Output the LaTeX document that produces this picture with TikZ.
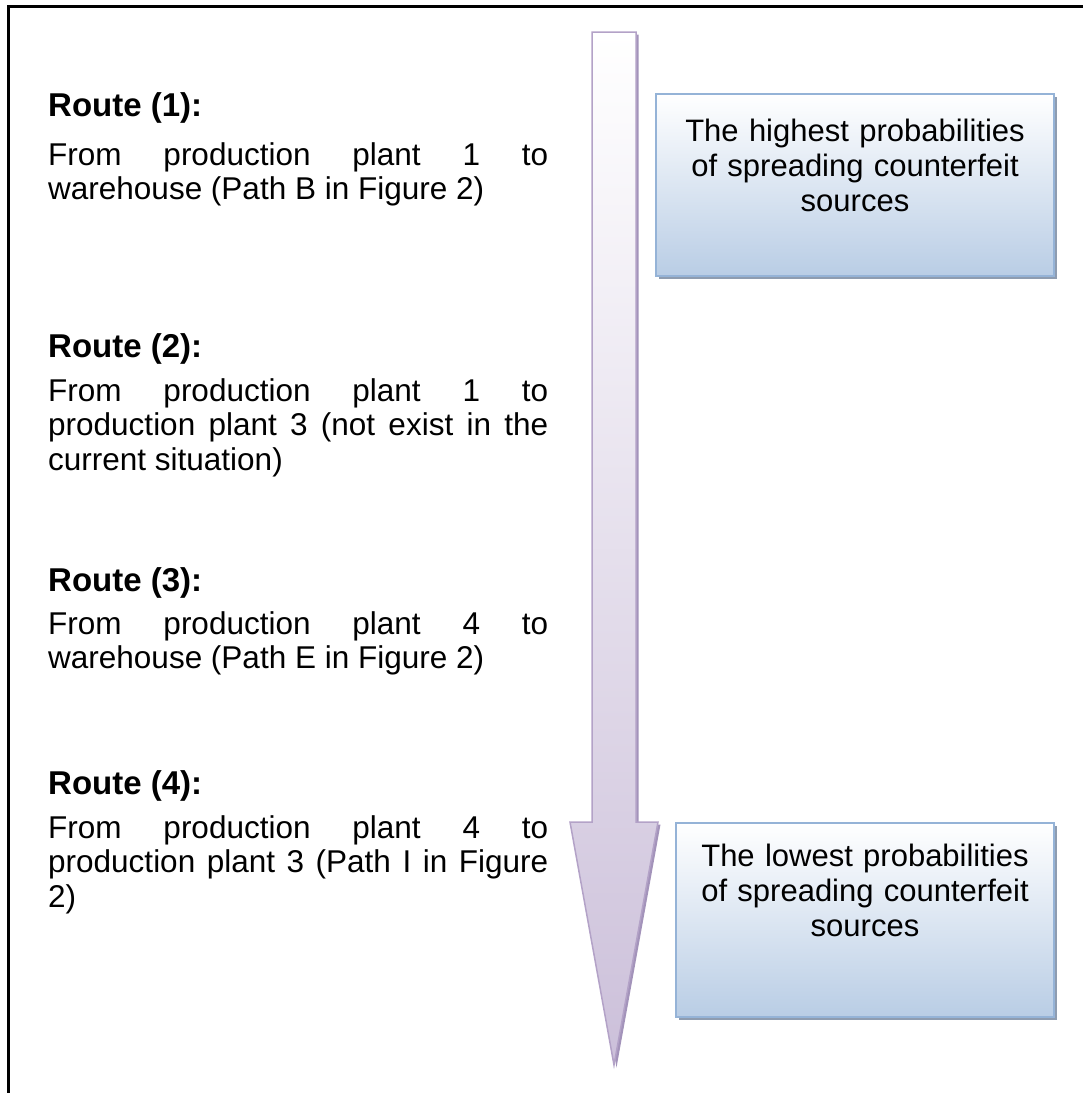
\documentclass[tikz,border=0pt]{standalone}
\usepackage{fontspec}
\setmainfont{Liberation Sans}
\usetikzlibrary{shadows, positioning}
\definecolor{boxblue}{HTML}{B9CDE5}
\definecolor{boxline}{HTML}{95B3D7}
\definecolor{boxshade}{HTML}{8E9CB0}
\definecolor{arrowfill}{HTML}{CCC0DA}
\definecolor{arrowline}{HTML}{B3A2C7}
\definecolor{arrowshade}{HTML}{A393BA}
\tolerance=10000
\hyphenpenalty=10000
\hbadness=10000

\begin{document}
\begin{tikzpicture}[
    x=1pt, y=-1pt,
    heading/.style={anchor=base west, inner sep=0pt, font=\fontsize{33}{35}\selectfont\bfseries},
    route/.style={anchor=base west, inner sep=0pt, text width=500pt, align=justify, font=\fontsize{31.5}{34.5}\selectfont},
    probbox/.style={draw=boxline, line width=1.5pt, top color=white, bottom color=boxblue, inner sep=0pt, anchor=north, drop shadow={shadow xshift=3pt, shadow yshift=-3pt, fill=boxshade, opacity=1}},
    probtext/.style={anchor=base, inner sep=0pt, text width=380pt, align=center, font=\fontsize{31}{35}\selectfont}
]
\useasboundingbox (0,0) rectangle (1083,1093);

% Frame
\draw[line width=2.5pt] (8.5,1093) -- (8.5,6.5) -- (1083,6.5);

% Big Arrow
\path[draw=arrowline, line width=1.5pt, top color=white, bottom color=arrowfill,
      drop shadow={shadow xshift=2.5pt, shadow yshift=-2.5pt, fill=arrowshade, opacity=1}]
    (592,32) -- (636,32) -- (636,822) -- (658,822) -- (614,1065) -- (570,822) -- (592,822) -- cycle;

% Routes
\node[heading] (r1) at (48,116) {Route (1):};
\node[route] (d1) at (48,165) {From production plant 1 to\linebreak warehouse (Path B in Figure 2)};

\node[heading] (r2) at (48,357) {Route (2):};
\node[route] (d2) at (48,401) {From production plant 1 to\linebreak production plant 3 (not exist in the\linebreak current situation)};

\node[heading] (r3) at (48,591) {Route (3):};
\node[route] (d3) at (48,634) {From production plant 4 to\linebreak warehouse (Path E in Figure 2)};

\node[heading] (r4) at (48,794) {Route (4):};
\node[route] (d4) at (48,838) {From production plant 4 to\linebreak production plant 3 (Path I in Figure\linebreak 2)};

% Probability boxes
\node[probbox, minimum width=398pt, minimum height=182pt] (hibox) at (855,93) {};
\node[probtext, yshift=-48pt] (hitext) at (hibox.north) {The highest probabilities\\of spreading counterfeit\\sources};

\node[probbox, minimum width=378pt, minimum height=194pt] (lobox) at (865,822) {};
\node[probtext, yshift=-44pt] (lotext) at (lobox.north) {The lowest probabilities\\of spreading counterfeit\\sources};

\end{tikzpicture}
\end{document}
